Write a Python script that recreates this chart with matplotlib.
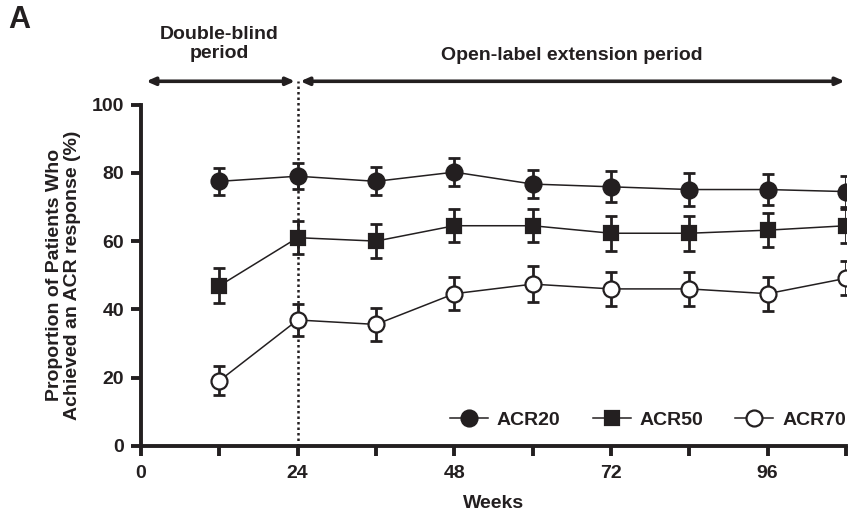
import matplotlib
matplotlib.use("Agg")
import matplotlib.pyplot as plt
from matplotlib.ticker import MultipleLocator

plt.rcParams['font.family'] = ['Liberation Sans', 'DejaVu Sans']

weeks = [12, 24, 36, 48, 60, 72, 84, 96, 108]
acr20 = [77.5, 79, 77.5, 80.2, 76.7, 75.9, 75.1, 75.1, 74.5]
acr20_err = [4.0, 3.8, 4.1, 4.0, 4.2, 4.5, 4.7, 4.5, 4.5]
acr50 = [46.9, 61.0, 60.0, 64.5, 64.5, 62.3, 62.3, 63.2, 64.5]
acr50_err = [5.1, 4.9, 4.9, 4.9, 4.9, 5.1, 5.1, 4.9, 5.0]
acr70 = [19.1, 36.9, 35.6, 44.6, 47.4, 46.0, 46.0, 44.6, 49.1]
acr70_err = [4.2, 4.8, 4.8, 4.8, 5.2, 5.0, 5.0, 5.0, 5.0]

series_names = ["ACR20", "ACR50", "ACR70"]
x_major = [0, 24, 48, 72, 96]
y_ticks = [0, 20, 40, 60, 80, 100]

col = '#231f20'
fs = 14
fig = plt.figure(figsize=(8.5, 5.17), dpi=100)
ax = fig.add_axes([141/850, (517-446)/517, (846-141)/850, (446-104.5)/517])

styles = [
    dict(marker='o', mfc=col, ms=11.5),
    dict(marker='s', mfc=col, ms=10.5),
    dict(marker='o', mfc='white', ms=11.5),
]
handles = []
for vals, errs, st, name in zip([acr20, acr50, acr70], [acr20_err, acr50_err, acr70_err], styles, series_names):
    ax.errorbar(weeks, vals, yerr=errs, fmt='none', ecolor=col, elinewidth=2.0,
                capsize=4, capthick=2.0, zorder=2)
    h, = ax.plot(weeks, vals, color=col, lw=1.1, marker=st['marker'], ms=st['ms'],
                 mfc=st['mfc'], mec=col, mew=1.6, label=name, zorder=3)
    handles.append(h)

ax.set_xlim(0, 108)
ax.set_ylim(0, 100)
ax.set_xticks(x_major)
ax.xaxis.set_minor_locator(MultipleLocator(12))
ax.set_yticks(y_ticks)
for s in ['top', 'right']:
    ax.spines[s].set_visible(False)
for s in ['left', 'bottom']:
    ax.spines[s].set_linewidth(2.8)
    ax.spines[s].set_color(col)
ax.tick_params(which='both', direction='out', length=7, width=2.8, color=col,
               labelsize=fs, labelcolor=col)
ax.tick_params(axis='x', pad=7)
ax.tick_params(axis='y', pad=5)
for lab in ax.get_xticklabels() + ax.get_yticklabels():
    lab.set_fontweight('bold')

ax.set_xlabel('Weeks', fontsize=fs, fontweight='bold', color=col, labelpad=9)
ax.set_ylabel('Proportion of Patients Who\nAchieved an ACR response (%)', fontsize=fs,
              fontweight='bold', color=col, labelpad=8, linespacing=1.1)

# dotted vertical line at week 24 extending above
ax.plot([24, 24], [0, 106.8], ls=(0, (1, 1.2)), color=col, lw=1.8, clip_on=False, zorder=1)

# period arrows
arrow_kw = dict(arrowstyle='<|-|>,head_length=0.5,head_width=0.22', color=col, lw=2.6,
                shrinkA=0, shrinkB=0)
ax.annotate('', xy=(0.8, 106.8), xytext=(23.6, 106.8), xycoords='data',
            arrowprops=arrow_kw, annotation_clip=False)
ax.annotate('', xy=(24.4, 106.8), xytext=(107.8, 106.8), xycoords='data',
            arrowprops=arrow_kw, annotation_clip=False)

fig.text(219/850, 1 - 44/517, 'Double-blind\nperiod', ha='center', va='center',
         fontsize=fs, fontweight='bold', color=col, linespacing=1.2)
fig.text(572/850, 1 - 56/517, 'Open-label extension period', ha='center', va='center',
         fontsize=fs, fontweight='bold', color=col)
fig.text(8/850, 1 - 20/517, 'A', ha='left', va='center', fontsize=22,
         fontweight='bold', color=col)

leg = ax.legend(handles=handles, loc='lower right', ncol=3, frameon=False,
                bbox_to_anchor=(1.011, 0.028), prop={'weight': 'bold', 'size': fs},
                handlelength=1.95, columnspacing=1.65, handletextpad=0.46,
                borderaxespad=0.0)
for t in leg.get_texts():
    t.set_color(col)

fig.savefig('out.png', dpi=100)
